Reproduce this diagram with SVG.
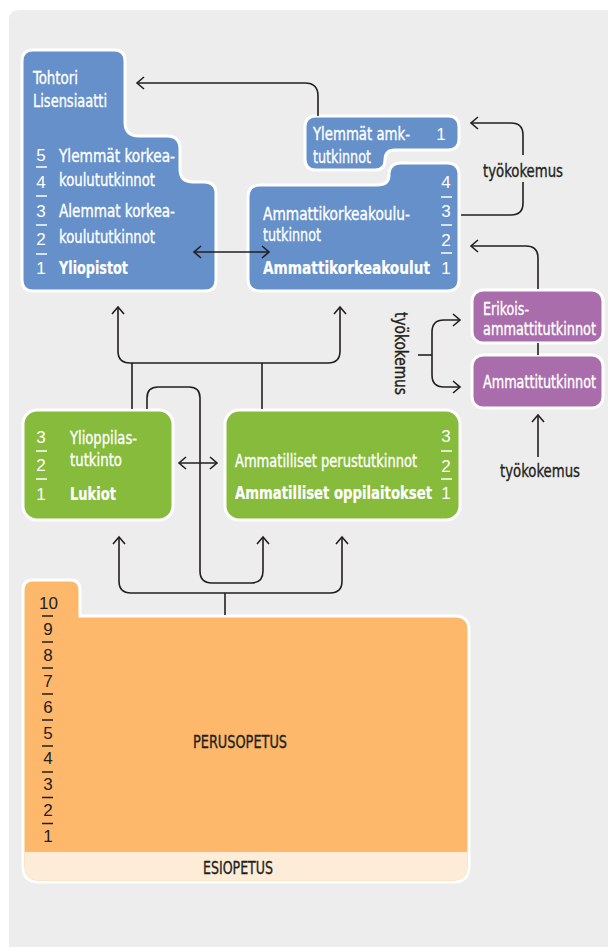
<svg xmlns="http://www.w3.org/2000/svg" width="608" height="947" viewBox="0 0 608 947">
<style>
.lbl{font-family:"Liberation Sans Narrow","DejaVu Sans Condensed","Liberation Sans",Arial,sans-serif;font-size:18px;fill:#fff;stroke:#fff;stroke-width:0.35}
.b{font-weight:bold;stroke-width:0.2;font-size:17px}
.sm{font-size:17px}
.num{font-family:"Liberation Sans Narrow","Liberation Sans",Arial,sans-serif;font-size:17px;fill:#fff;text-anchor:middle}
.dk{fill:#231f20;stroke:#231f20}
.num.dk{stroke:none}
.bar{stroke:#fff;stroke-width:1.5}
.bard{stroke:#231f20;stroke-width:1.5}
.box{stroke:#fff;stroke-width:3}
.blue{fill:#6590c9}
.green{fill:#86bb3b}
.purple{fill:#a86daa}
.conn{fill:none;stroke:#231f20;stroke-width:1.6}
</style>
<defs>
<marker id="ah" viewBox="-10 -8 12 16" refX="0" refY="0" markerWidth="12" markerHeight="16" orient="auto-start-reverse" markerUnits="userSpaceOnUse">
<path d="M-7,-6 L0,0 L-7,6" fill="none" stroke="#231f20" stroke-width="1.6"/>
</marker>
</defs>
<rect x="0" y="0" width="608" height="947" fill="#fff"/>
<path d="M9,947 V20 Q9,10 19,10 H608 V947 Z" fill="#ededed"/>

<g id="yliopistot">
<path class="box blue" d="M33,50 H114 Q125,50 125,61 V122 Q125,136 139,136 H167 Q180,136 180,149 V169 Q180,182 193,182 H204 Q216,182 216,194 V280 Q216,291 205,291 H33 Q22,291 22,280 V61 Q22,50 33,50 Z"/>
<text class="lbl" x="33" y="84" textLength="45" lengthAdjust="spacingAndGlyphs">Tohtori</text>
<text class="lbl" x="33" y="107" textLength="74" lengthAdjust="spacingAndGlyphs">Lisensiaatti</text>
<text class="num" x="41" y="161">5</text>
<line class="bar" x1="36" y1="167" x2="47" y2="167"/>
<text class="num" x="41" y="188">4</text>
<line class="bar" x1="36" y1="196" x2="47" y2="196"/>
<text class="num" x="41" y="217">3</text>
<line class="bar" x1="36" y1="225" x2="47" y2="225"/>
<text class="num" x="41" y="245">2</text>
<line class="bar" x1="36" y1="254" x2="47" y2="254"/>
<text class="num" x="41" y="274">1</text>
<text class="lbl" x="59" y="162" textLength="116" lengthAdjust="spacingAndGlyphs">Ylemmät korkea-</text>
<text class="lbl" x="59" y="186" textLength="96" lengthAdjust="spacingAndGlyphs">koulututkinnot</text>
<text class="lbl" x="59" y="217" textLength="116" lengthAdjust="spacingAndGlyphs">Alemmat korkea-</text>
<text class="lbl" x="59" y="243" textLength="96" lengthAdjust="spacingAndGlyphs">koulututkinnot</text>
<text class="lbl b" x="59" y="274" textLength="69" lengthAdjust="spacingAndGlyphs">Yliopistot</text>
</g>

<g id="ylemmat-amk">
<path class="box blue" d="M316,116 H448 Q459,116 459,127 V139 Q459,150 448,150 H395 Q385,150 385,160 Q385,170 375,170 H316 Q305,170 305,159 V127 Q305,116 316,116 Z"/>
<text class="lbl" x="313" y="140" textLength="97" lengthAdjust="spacingAndGlyphs">Ylemmät amk-</text>
<text class="lbl" x="313" y="163" textLength="58" lengthAdjust="spacingAndGlyphs">tutkinnot</text>
<text class="num" x="441" y="140">1</text>
</g>

<g id="amk">
<path class="box blue" d="M260,185 H377 Q389,185 389,175 Q389,163 401,163 H447 Q459,163 459,175 V279 Q459,291 447,291 H260 Q248,291 248,279 V197 Q248,185 260,185 Z"/>
<text class="lbl" x="263" y="220" textLength="147" lengthAdjust="spacingAndGlyphs">Ammattikorkeakoulu-</text>
<text class="lbl" x="263" y="241" textLength="58" lengthAdjust="spacingAndGlyphs">tutkinnot</text>
<text class="lbl b" x="263" y="274" textLength="167" lengthAdjust="spacingAndGlyphs">Ammattikorkeakoulut</text>
<text class="num" x="446" y="188">4</text>
<line class="bar" x1="441" y1="197" x2="452" y2="197"/>
<text class="num" x="446" y="217">3</text>
<line class="bar" x1="441" y1="225" x2="452" y2="225"/>
<text class="num" x="446" y="246">2</text>
<line class="bar" x1="441" y1="253" x2="452" y2="253"/>
<text class="num" x="446" y="274">1</text>
</g>

<g id="erikoisammattitutkinnot">
<rect class="box purple" x="472" y="290" width="131" height="53" rx="11"/>
<text class="lbl" x="483" y="315" textLength="46" lengthAdjust="spacingAndGlyphs">Erikois-</text>
<text class="lbl sm" x="483" y="335" textLength="113" lengthAdjust="spacingAndGlyphs">ammattitutkinnot</text>
</g>

<g id="ammattitutkinnot">
<rect class="box purple" x="472" y="355" width="131" height="53" rx="11"/>
<text class="lbl sm" x="483" y="388" textLength="113" lengthAdjust="spacingAndGlyphs">Ammattitutkinnot</text>
</g>

<g id="lukiot">
<rect class="box green" x="23" y="410" width="150" height="110" rx="14"/>
<text class="num" x="41" y="443">3</text>
<line class="bar" x1="36" y1="451" x2="47" y2="451"/>
<text class="num" x="41" y="471">2</text>
<line class="bar" x1="36" y1="479" x2="47" y2="479"/>
<text class="num" x="41" y="500">1</text>
<text class="lbl" x="70" y="444" textLength="67" lengthAdjust="spacingAndGlyphs">Ylioppilas-</text>
<text class="lbl" x="70" y="466" textLength="52" lengthAdjust="spacingAndGlyphs">tutkinto</text>
<text class="lbl b" x="70" y="500" textLength="46" lengthAdjust="spacingAndGlyphs">Lukiot</text>
</g>

<g id="ammatilliset">
<rect class="box green" x="225" y="410" width="235" height="110" rx="14"/>
<text class="lbl" x="235" y="467" textLength="182" lengthAdjust="spacingAndGlyphs">Ammatilliset perustutkinnot</text>
<text class="lbl b" x="235" y="499" textLength="197" lengthAdjust="spacingAndGlyphs">Ammatilliset oppilaitokset</text>
<text class="num" x="446" y="442">3</text>
<line class="bar" x1="441" y1="451" x2="452" y2="451"/>
<text class="num" x="446" y="472">2</text>
<line class="bar" x1="441" y1="479" x2="452" y2="479"/>
<text class="num" x="446" y="499">1</text>
</g>

<g id="perusopetus">
<path d="M33,580 H70 Q80,580 80,590 V616 H455 Q469,616 469,630 V866 Q469,882 453,882 H39 Q23,882 23,866 V590 Q23,580 33,580 Z" fill="#fdb86c" stroke="#fff" stroke-width="3"/>
<path d="M24.5,852 H467.5 V866 Q467.5,880.5 453,880.5 H39 Q24.5,880.5 24.5,866 Z" fill="#fdecd7"/>
<text class="num dk" x="48.5" y="608.5">10</text>
<line class="bard" x1="42" y1="616" x2="53" y2="616"/>
<text class="num dk" x="48" y="634.5">9</text>
<line class="bard" x1="42" y1="642" x2="53" y2="642"/>
<text class="num dk" x="48" y="660.5">8</text>
<line class="bard" x1="42" y1="668" x2="53" y2="668"/>
<text class="num dk" x="48" y="686.5">7</text>
<line class="bard" x1="42" y1="694" x2="53" y2="694"/>
<text class="num dk" x="48" y="712.5">6</text>
<line class="bard" x1="42" y1="720" x2="53" y2="720"/>
<text class="num dk" x="48" y="738.5">5</text>
<line class="bard" x1="42" y1="746" x2="53" y2="746"/>
<text class="num dk" x="48" y="764">4</text>
<line class="bard" x1="42" y1="772" x2="53" y2="772"/>
<text class="num dk" x="48" y="790">3</text>
<line class="bard" x1="42" y1="797.5" x2="53" y2="797.5"/>
<text class="num dk" x="48" y="816">2</text>
<line class="bard" x1="42" y1="823.5" x2="53" y2="823.5"/>
<text class="num dk" x="48" y="842">1</text>
<text class="lbl dk" x="193" y="748" textLength="94" lengthAdjust="spacingAndGlyphs">PERUSOPETUS</text>
</g>

<g id="esiopetus">
<text class="lbl dk" x="203" y="874" textLength="70" lengthAdjust="spacingAndGlyphs">ESIOPETUS</text>
</g>

<g id="labels">
<text class="lbl dk" x="483" y="177" textLength="80" lengthAdjust="spacingAndGlyphs">työkokemus</text>
<text class="lbl dk" x="500" y="477" textLength="80" lengthAdjust="spacingAndGlyphs">työkokemus</text>
<text class="lbl dk" transform="translate(395,312) rotate(90)" textLength="83" lengthAdjust="spacingAndGlyphs">työkokemus</text>
</g>

<g id="connectors">
<path class="conn" d="M318,116 V96 Q318,83 305,83 H137" marker-end="url(#ah)"/>
<path class="conn" d="M194,252 H269" marker-start="url(#ah)" marker-end="url(#ah)"/>
<path class="conn" d="M461,215 H511 Q523,215 523,203 V182"/>
<path class="conn" d="M523,155 V135 Q523,123 511,123 H471" marker-end="url(#ah)"/>
<path class="conn" d="M538,289 V258 Q538,246 526,246 H471" marker-end="url(#ah)"/>
<path class="conn" d="M538,343 V355"/>
<path class="conn" d="M418,355 H432"/>
<path class="conn" d="M460,320 H444 Q432,320 432,332 V375 Q432,387 444,387 H460" marker-start="url(#ah)" marker-end="url(#ah)"/>
<path class="conn" d="M538,457 V415" marker-end="url(#ah)"/>
<path class="conn" d="M118,307 V351 Q118,363 130,363 H328 Q340,363 340,351 V307" marker-start="url(#ah)" marker-end="url(#ah)"/>
<path class="conn" d="M132,363 V409"/>
<path class="conn" d="M262,363 V409"/>
<path class="conn" d="M147,409 V398 Q147,387 158,387 H189 Q200,387 200,398 V571 Q200,583 212,583 H251 Q263,583 263,571 V537" marker-end="url(#ah)"/>
<path class="conn" d="M179,463 H217" marker-start="url(#ah)" marker-end="url(#ah)"/>
<path class="conn" d="M119,537 V581 Q119,593 131,593 H330 Q342,593 342,581 V537" marker-start="url(#ah)" marker-end="url(#ah)"/>
<path class="conn" d="M225,593 V615"/>
</g>
</svg>
